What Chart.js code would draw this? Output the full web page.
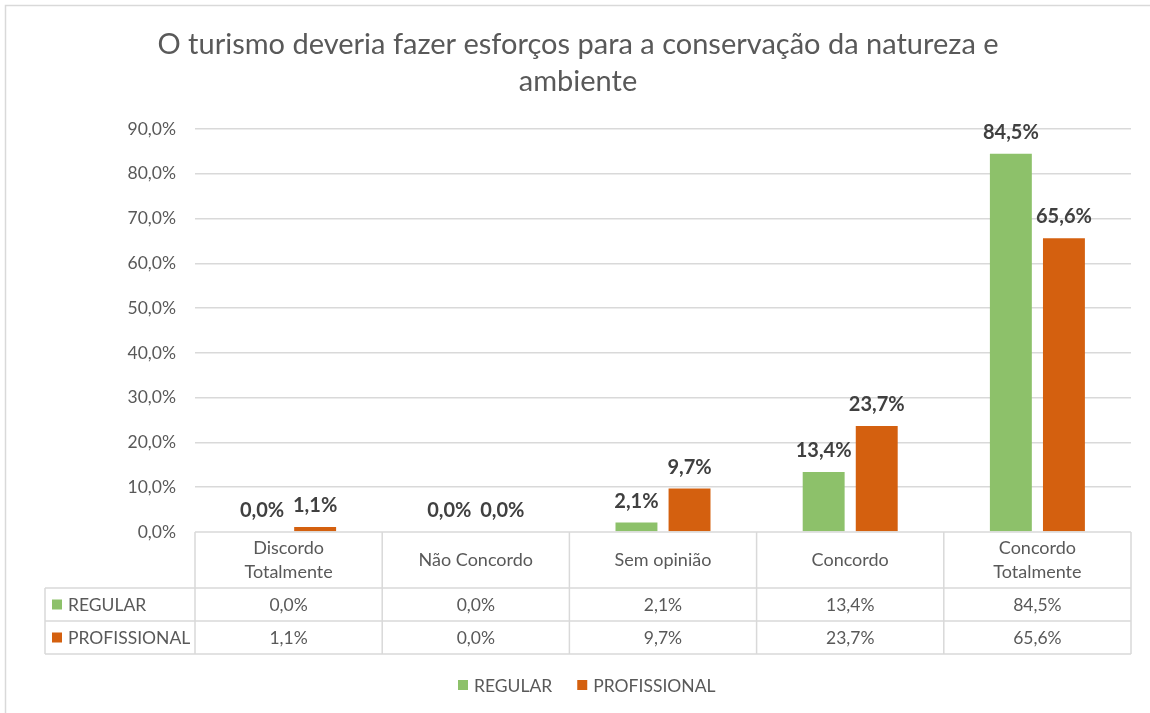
<!DOCTYPE html>
<html lang="pt">
<head>
<meta charset="utf-8">
<title>Conservação da natureza e ambiente</title>
<script src="https://cdn.jsdelivr.net/npm/chart.js@4/dist/chart.umd.min.js"></script>
<style>
    html, body { margin: 0; padding: 0; background: #ffffff; }
    #grafico { display: block; }
</style>
</head>
<body>
<canvas id="grafico" width="1150" height="713"></canvas>
<script>
// Datos del gráfico.
const TITULO = ['O turismo deveria fazer esforços para a conservação da natureza e', 'ambiente'];
const CATEGORIAS = ['Discordo Totalmente', 'Não Concordo', 'Sem opinião', 'Concordo', 'Concordo Totalmente'];
const CATEGORIAS_LINEAS = [['Discordo', 'Totalmente'], ['Não Concordo'], ['Sem opinião'], ['Concordo'], ['Concordo', 'Totalmente']];
const REGULAR = [0.0, 0.0, 2.1, 13.4, 84.5];
const PROFISSIONAL = [1.1, 0.0, 9.7, 23.7, 65.6];
const SERIES = ['REGULAR', 'PROFISSIONAL'];
const COLORES = ['#8DC16A', '#D4600F'];
const EJE_Y = [0, 10, 20, 30, 40, 50, 60, 70, 80, 90];

const FUENTE = 'Lato, "Open Sans", sans-serif';
const GRIS = '#595959';
const BORDE = '#D9D9D9';

// Formato de porcentaje con coma decimal.
const porcentaje = (valor) => valor.toFixed(1).replace('.', ',') + '%';

/*
*   Plugin para dibujar el título, las etiquetas de datos, la tabla de datos y la leyenda.
*/
const extras = {
    id: 'extras',
    afterDraw: (chart) => {
        const ctx = chart.ctx;
        const x = chart.scales.x;
        const area = chart.chartArea;
        ctx.save();

        // Borde exterior del gráfico.
        ctx.strokeStyle = BORDE;
        ctx.lineWidth = 1.5;
        ctx.strokeRect(5.5, 5.5, 1200, 800);

        // Título en dos líneas.
        ctx.fillStyle = GRIS;
        ctx.font = '29px ' + FUENTE;
        ctx.textAlign = 'center';
        ctx.textBaseline = 'middle';
        ctx.fillText(TITULO[0], 578, 45);
        ctx.fillText(TITULO[1], 578, 82);

        // Etiquetas de valores sobre cada barra.
        ctx.font = 'bold 20px ' + FUENTE;
        ctx.fillStyle = '#404040';
        ctx.textBaseline = 'alphabetic';
        chart.data.datasets.forEach((ds, i) => {
            chart.getDatasetMeta(i).data.forEach((barra, j) => {
                ctx.fillText(porcentaje(ds.data[j]), barra.x, barra.y - 15);
            });
        });

        // Tabla de datos bajo el eje X.
        const ancho = (x.getPixelForValue(1) - x.getPixelForValue(0));
        const bordes = CATEGORIAS.map((c, i) => x.getPixelForValue(i) - ancho / 2);
        bordes.push(x.getPixelForValue(CATEGORIAS.length - 1) + ancho / 2);
        const filas = [area.bottom, 588, 621, 654];
        const izq = 45;

        ctx.strokeStyle = BORDE;
        ctx.lineWidth = 1.5;
        ctx.beginPath();
        // Líneas horizontales.
        ctx.moveTo(bordes[0], filas[0]);
        ctx.lineTo(bordes[bordes.length - 1], filas[0]);
        for (let f = 1; f < filas.length; f++) {
            ctx.moveTo(izq, filas[f]);
            ctx.lineTo(bordes[bordes.length - 1], filas[f]);
        }
        // Líneas verticales.
        bordes.forEach((b) => {
            ctx.moveTo(b, filas[0]);
            ctx.lineTo(b, filas[3]);
        });
        ctx.moveTo(izq, filas[1]);
        ctx.lineTo(izq, filas[3]);
        ctx.stroke();

        // Encabezados de categoría.
        ctx.fillStyle = GRIS;
        ctx.font = '18px ' + FUENTE;
        ctx.textBaseline = 'middle';
        CATEGORIAS_LINEAS.forEach((lineas, i) => {
            const cx = x.getPixelForValue(i);
            const cy = (filas[0] + filas[1]) / 2;
            lineas.forEach((texto, k) => {
                ctx.fillText(texto, cx, cy + (k - (lineas.length - 1) / 2) * 24);
            });
        });

        // Filas de valores con su clave de color.
        ctx.font = '17.5px ' + FUENTE;
        [REGULAR, PROFISSIONAL].forEach((serie, s) => {
            const cy = (filas[s + 1] + filas[s + 2]) / 2;
            ctx.fillStyle = COLORES[s];
            ctx.fillRect(52, cy - 5, 10, 10);
            ctx.fillStyle = GRIS;
            ctx.textAlign = 'left';
            ctx.fillText(SERIES[s], 68, cy + 1);
            ctx.textAlign = 'center';
            serie.forEach((valor, i) => {
                ctx.fillText(porcentaje(valor), x.getPixelForValue(i), cy + 1);
            });
        });

        // Leyenda inferior.
        ctx.textAlign = 'left';
        const ly = 685;
        let lx = 458;
        SERIES.forEach((nombre, s) => {
            ctx.fillStyle = COLORES[s];
            ctx.fillRect(lx, ly - 5, 10, 10);
            ctx.fillStyle = GRIS;
            ctx.fillText(nombre, lx + 16, ly + 1);
            lx += 16 + ctx.measureText(nombre).width + 25;
        });

        ctx.restore();
    }
};

// Se crea el gráfico de barras.
new Chart(document.getElementById('grafico'), {
    type: 'bar',
    data: {
        labels: CATEGORIAS,
        datasets: SERIES.map((nombre, s) => ({
            label: nombre,
            data: s === 0 ? REGULAR : PROFISSIONAL,
            backgroundColor: COLORES[s],
            categoryPercentage: 0.567,
            barPercentage: 0.79
        }))
    },
    options: {
        responsive: false,
        animation: false,
        layout: {
            padding: { left: 0, right: 19, top: 129, bottom: 181 }
        },
        plugins: {
            legend: { display: false },
            title: { display: false },
            tooltip: { enabled: false }
        },
        scales: {
            x: {
                display: false
            },
            y: {
                min: EJE_Y[0],
                max: EJE_Y[EJE_Y.length - 1],
                afterBuildTicks: (eje) => {
                    eje.ticks = EJE_Y.map((v) => ({ value: v }));
                },
                afterFit: (eje) => {
                    eje.width = 195;
                },
                border: { display: false },
                grid: {
                    color: (c) => c.tick && c.tick.value === 0 ? 'rgba(0,0,0,0)' : BORDE,
                    lineWidth: 1.5,
                    drawTicks: false
                },
                ticks: {
                    padding: 19,
                    color: GRIS,
                    font: { size: 17.5, family: FUENTE },
                    callback: (v) => porcentaje(v)
                }
            }
        }
    },
    plugins: [extras]
});
</script>
</body>
</html>
